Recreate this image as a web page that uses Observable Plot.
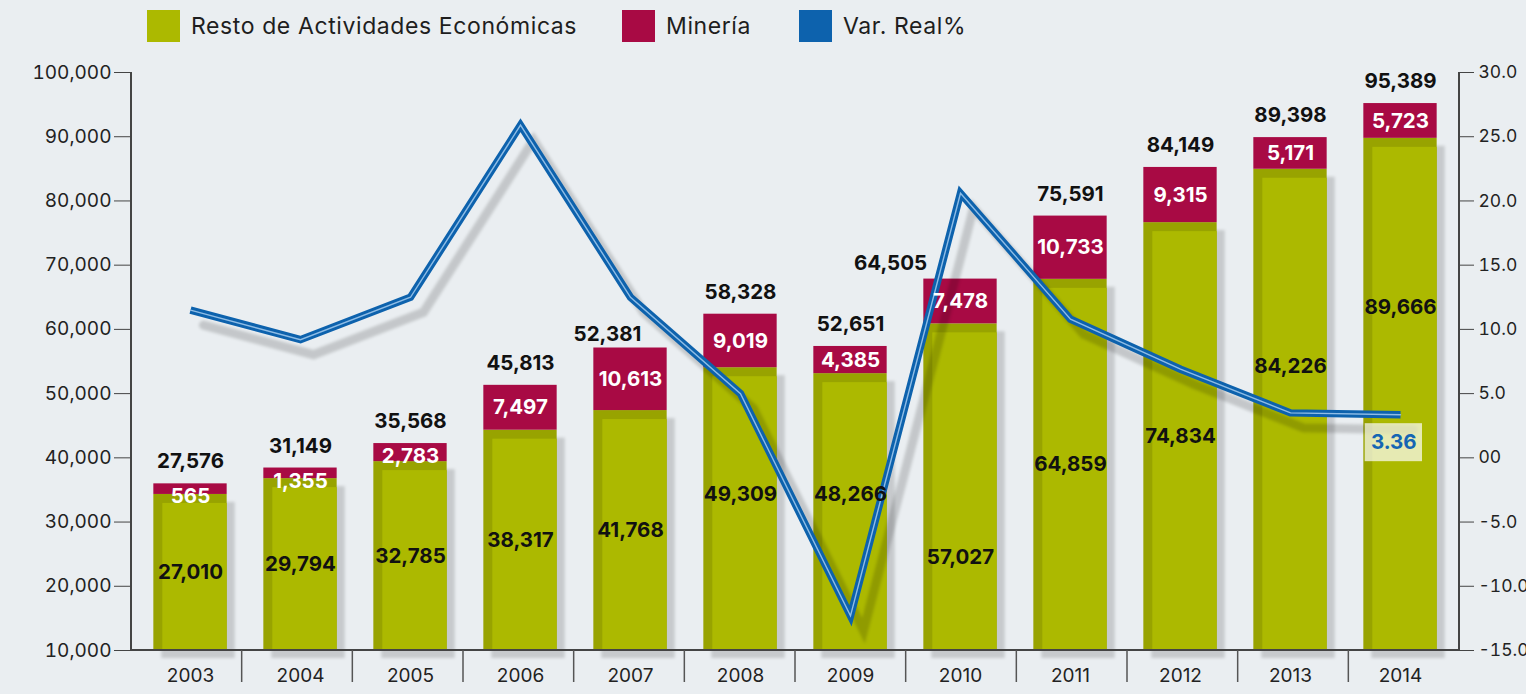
<!DOCTYPE html>
<html><head><meta charset="utf-8">
<script src="https://cdn.jsdelivr.net/npm/d3@7"></script>
<script src="https://cdn.jsdelivr.net/npm/@observablehq/plot@0.6"></script>
<style>
html,body{margin:0;padding:0;background:#eaeef1;}
body{width:1526px;height:694px;overflow:hidden;font-family:Inter,"Noto Sans",sans-serif;}
#legend{position:relative;height:56px;}
.li{position:absolute;top:10px;display:flex;align-items:center;font-size:23px;color:#1e1e1e;height:32px;letter-spacing:0.6px;}
.sw{width:33px;height:32px;margin-right:11px;}
</style></head><body>
<div id="legend"></div>
<div id="chart"></div>
<script>
// ---- data ----
const years = ["2003","2004","2005","2006","2007","2008","2009","2010","2011","2012","2013","2014"];
const resto = [27010,29794,32785,38317,41768,49309,48266,57027,64859,74834,84226,89666];
const mineria = [565,1355,2783,7497,10613,9019,4385,7478,10733,9315,5171,5723];
const total = [27576,31149,35568,45813,52381,58328,52651,64505,75591,84149,89398,95389];
const varReal = [11.5,9.2,12.5,25.9,12.5,5.0,-12.3,20.6,10.8,6.9,3.5,3.36];
const leftTicks = [10000,20000,30000,40000,50000,60000,70000,80000,90000,100000];
const rightTicks = [-15,-10,-5,0,5,10,15,20,25,30];
const rightTickLabels = ["-15.0","-10.0","-5.0","00","5.0","10.0","15.0","20.0","25.0","30.0"];
const seriesNames = ["Resto de Actividades Económicas","Minería","Var. Real%"];

// ---- styles / layout ----
const C = {green:"#acb900", greenDark:"#98a300", red:"#a80a44", blue:"#0d62ad", blueInner:"#8fbde6", text:"#111"};
const legendLeft = [147, 622, 799];
const legendColors = [C.green, C.red, C.blue];
const legend = document.getElementById("legend");
seriesNames.forEach((n,i)=>{
  const d = document.createElement("div");
  d.className="li"; d.style.left = legendLeft[i]+"px";
  d.innerHTML = `<div class="sw" style="background:${legendColors[i]}"></div><span>${n}</span>`;
  legend.appendChild(d);
});

const W=1526, H=638, mT=16, mB=44, mL=131, mR=67;
const pxU = 90000/(H-mT-mB);              // y units per pixel
const step = (W-mL-mR)/years.length;
const ins = (step-74)/2;
// the original draws bars on a compressed scale relative to its printed axis
const drawn = v => 10395 + 0.885*v;
const varPos = v => 10000 + (v+15)*2000;   // right axis (-15..30) mapped onto left axis range
// label placement tweaks (pixels, positive = down) copied from the original layout
const greenNudgePx = {"2008":-15,"2009":-18,"2010":70,"2013":-43,"2014":-87};
const totalNudge = {"2007":{dx:-23,dy:-14},"2010":{dx:-70,dy:-16}};

const data = years.map((year,i)=>{
  const gTop = drawn(resto[i]);
  const rTop = Math.max(drawn(total[i])+350, gTop+1650);
  return {year, resto:resto[i], mineria:mineria[i], total:total[i], varReal:varReal[i],
    gTop, rTop,
    gLab: (10000+gTop)/2 - (greenNudgePx[year]||0)*pxU,
    rLab: Math.min((gTop+rTop)/2, rTop-13*pxU),
    vY: varPos(varReal[i])};
});
const last = [data[data.length-1]];
const fmt = d3.format(",");
const rLabelMap = new Map(rightTicks.map((t,i)=>[varPos(t), rightTickLabels[i]]));
const totalText = (rows, dx, dy) => Plot.text(rows,{x:"year", y:"rTop", text:d=>fmt(d.total), dx, dy, fill:C.text, fontWeight:"bold", fontSize:20.5});

const chart = Plot.plot({
  width:W, height:H, marginTop:mT, marginBottom:mB, marginLeft:mL, marginRight:mR,
  style:{background:"transparent", fontFamily:"Inter, 'Noto Sans', sans-serif", fontSize:"19px", color:"#222", overflow:"visible"},
  x:{type:"band", domain:years, padding:0, label:null},
  y:{domain:[10000,100000], label:null},
  marks:[
    Plot.barY(data,{x:"year", y1:10000, y2:"gTop", fill:"#000", fillOpacity:0.15, dx:8, dy:8, insetLeft:ins, insetRight:ins, ariaDescription:"shadow"}),
    Plot.barY(data,{x:"year", y1:10000, y2:"gTop", fill:C.greenDark, insetLeft:ins, insetRight:ins}),
    Plot.barY(data,{x:"year", y1:10000, y2:"gTop", fill:C.green, insetLeft:ins+9, insetRight:ins, insetTop:9}),
    Plot.barY(data,{x:"year", y1:"gTop", y2:"rTop", fill:C.red, insetLeft:ins, insetRight:ins}),
    Plot.line(data,{x:"year", y:"vY", stroke:"#000", strokeOpacity:0.16, strokeWidth:9, dx:13, dy:15, strokeLinejoin:"miter", strokeMiterlimit:10, ariaDescription:"shadow"}),
    Plot.line(data,{x:"year", y:"vY", stroke:C.blue, strokeWidth:7.5, strokeLinejoin:"miter", strokeMiterlimit:10, strokeLinecap:"butt"}),
    Plot.line(data,{x:"year", y:"vY", stroke:C.blueInner, strokeWidth:1.4, strokeLinejoin:"miter", strokeMiterlimit:10}),
    totalText(data.filter(d=>!totalNudge[d.year]), 0, -22),
    ...Object.entries(totalNudge).map(([yr,o])=>totalText(data.filter(d=>d.year===yr), o.dx, o.dy)),
    Plot.text(data,{x:"year", y:"rLab", text:d=>fmt(d.mineria), fill:"#fff", fontWeight:"bold", fontSize:20.5}),
    Plot.text(data,{x:"year", y:"gLab", text:d=>fmt(d.resto), fill:C.text, fontWeight:"bold", fontSize:20.5}),
    Plot.barY(last,{x:"year", y1:d=>d.vY-47*pxU, y2:d=>d.vY-9*pxU, fill:"#fff", fillOpacity:0.7, insetLeft:19.7, insetRight:33}),
    Plot.text(last,{x:"year", y:d=>d.vY-28*pxU, text:d=>d.varReal.toFixed(2), dx:-6.7, fill:"#1565b3", fontWeight:"bold", fontSize:20.5}),
    Plot.axisY(leftTicks,{anchor:"left", tickSize:17, tickPadding:3, tickFormat:fmt, fontSize:19, stroke:"#444", fill:"#222", letterSpacing:1.2}),
    Plot.axisY(rightTicks.map(varPos),{anchor:"right", tickSize:14, tickPadding:5, tickFormat:d=>rLabelMap.get(d), fontSize:17.5, stroke:"#444", fill:"#222"}),
    Plot.axisX({tickSize:0, tickPadding:18, fontSize:19, fill:"#222"})
  ]
});
document.getElementById("chart").appendChild(chart);

// blur the drop shadows
chart.querySelectorAll('[aria-description="shadow"]').forEach(g=>g.style.filter="blur(1.5px)");

// frame lines and category separators
const svg = d3.select(chart);
const yb = H-mB, yt = mT, x0 = mL, x1 = W-mR;
svg.append("path").attr("d",`M${x0},${yt}V${yb}H${x1}V${yt}`).attr("fill","none").attr("stroke","#444").attr("stroke-width",2);
for(let i=1;i<years.length;i++){
  const x = x0 + i*step;
  svg.append("line").attr("x1",x).attr("x2",x).attr("y1",yb).attr("y2",yb+32).attr("stroke","#555").attr("stroke-width",1.5);
}
</script></body></html>
